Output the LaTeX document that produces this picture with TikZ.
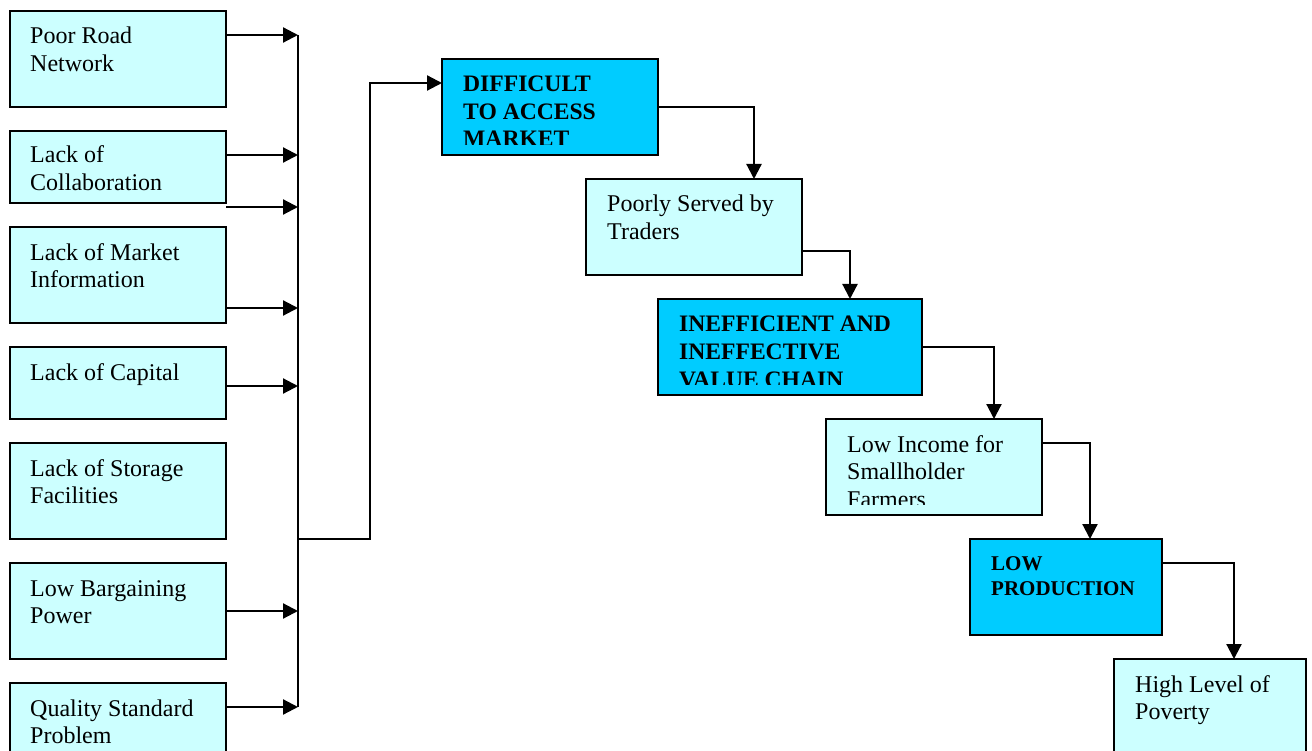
\documentclass[tikz,border=0pt]{standalone}
\usepackage{fontspec}
\setmainfont{Liberation Serif}
\usetikzlibrary{arrows.meta,calc}
\definecolor{lightbox}{HTML}{CCFFFF}
\definecolor{darkbox}{HTML}{00CCFF}
\tikzset{
 box/.style={draw=black, line width=2.2pt, anchor=north west, inner sep=0pt, outer sep=0pt},
 lbox/.style={box, fill=lightbox},
 dbox/.style={box, fill=darkbox},
 txt/.style={anchor=base west, align=left, inner sep=0pt, font=\fontsize{24}{27.5}\selectfont},
 btxt/.style={txt, font=\fontsize{23.6}{27.5}\selectfont\bfseries},
 arr/.style={line width=2.2pt, -{Triangle[length=15pt,width=15pt]}},
 ln/.style={line width=2.2pt},
}
\begin{document}
\begin{tikzpicture}[x=1pt,y=-1pt]
\useasboundingbox (0,0) rectangle (1312,751);
% left column
\node[lbox, minimum width=216pt, minimum height=96pt] (b1) at (10,11) {};
\node[lbox, minimum width=216pt, minimum height=72pt] (b2) at (10,131) {};
\node[lbox, minimum width=216pt, minimum height=96pt] (b3) at (10,227) {};
\node[lbox, minimum width=216pt, minimum height=72pt] (b4) at (10,347) {};
\node[lbox, minimum width=216pt, minimum height=96pt] (b5) at (10,443) {};
\node[lbox, minimum width=216pt, minimum height=96pt] (b6) at (10,563) {};
\node[lbox, minimum width=216pt, minimum height=96pt] (b7) at (10,683) {};
% (base anchor = baseline of the last line)
\node[txt] (t1) at ($(b1.north west)+(20,60.5)$) {Poor Road\\Network};
\node[txt] (t2) at ($(b2.north west)+(20,59.5)$) {Lack of\\Collaboration};
\node[txt] (t3) at ($(b3.north west)+(20,60.5)$) {Lack of Market\\Information};
\node[txt] (t4) at ($(b4.north west)+(20,33)$) {Lack of Capital};
\node[txt] (t5) at ($(b5.north west)+(20,60.5)$) {Lack of Storage\\Facilities};
\node[txt] (t6) at ($(b6.north west)+(20,60.5)$) {Low Bargaining\\Power};
\node[txt] (t7) at ($(b7.north west)+(20,60.5)$) {Quality Standard\\Problem};
% chain
\node[dbox, minimum width=216pt, minimum height=96pt] (d1) at (442,59) {};
\node[lbox, minimum width=216pt, minimum height=96pt] (p1) at (586,179) {};
\node[dbox, minimum width=264pt, minimum height=96pt] (d2) at (658,299) {};
\node[lbox, minimum width=216pt, minimum height=96pt] (p2) at (826,419) {};
\node[dbox, minimum width=192pt, minimum height=96pt] (d3) at (970,539) {};
\node[lbox, minimum width=192pt, minimum height=96pt] (p3) at (1114,659) {};
\begin{scope}
\clip (d1.north west) rectangle ($(d1.south east)+(0,-10)$);
\node[btxt] (td1) at ($(d1.north west)+(21,88)$) {DIFFICULT\\TO ACCESS\\MARKET};
\end{scope}
\node[txt] (tp1) at ($(p1.north west)+(21,60.5)$) {Poorly Served by\\Traders};
\begin{scope}
\clip (d2.north west) rectangle ($(d2.south east)+(0,-11)$);
\node[btxt] (td2) at ($(d2.north west)+(21,88)$) {INEFFICIENT AND\\INEFFECTIVE\\VALUE CHAIN};
\end{scope}
\begin{scope}
\clip (p2.north west) rectangle ($(p2.south east)+(0,-11)$);
\node[txt] (tp2) at ($(p2.north west)+(21,88)$) {Low Income for\\Smallholder\\Farmers};
\end{scope}
\node[btxt, font=\fontsize{21}{25}\selectfont\bfseries] (td3) at ($(d3.north west)+(21,56)$) {LOW\\PRODUCTION};
\node[txt] (tp3) at ($(p3.north west)+(21,60.5)$) {High Level of\\Poverty};
% bus
\coordinate (bt) at (298,35);
\coordinate (j2) at (298,155);
\coordinate (j2b) at (298,207);
\coordinate (j3) at (298,308);
\coordinate (j4) at (298,386);
\coordinate (jm) at (298,539);
\coordinate (j6) at (298,611);
\coordinate (bb) at (298,707);
\draw[ln] (bt) -- (bb);
\draw[arr] (b1.east |- bt) -- (bt);
\draw[arr] (b2.east |- j2) -- (j2);
\draw[arr] (b2.east |- j2b) -- (j2b);
\draw[arr] (b3.east |- j3) -- (j3);
\draw[arr] (b4.east |- j4) -- (j4);
\draw[arr] (b6.east |- j6) -- (j6);
\draw[arr] (b7.east |- bb) -- (bb);
\draw[arr] (jm) -- ++(72,0) |- ($(d1.north west)+(0,24)$);
% chain connectors
\draw[arr] ($(d1.north east)+(0,48)$) -| ($(p1.north west)+(168,0)$);
\draw[arr] ($(p1.north east)+(0,72)$) -| ($(d2.north west)+(192,0)$);
\draw[arr] ($(d2.north east)+(0,48)$) -| ($(p2.north west)+(168,0)$);
\draw[arr] ($(p2.north east)+(0,24)$) -| ($(d3.north west)+(120,0)$);
\draw[arr] ($(d3.north east)+(0,24)$) -| ($(p3.north west)+(120,0)$);
\end{tikzpicture}
\end{document}
